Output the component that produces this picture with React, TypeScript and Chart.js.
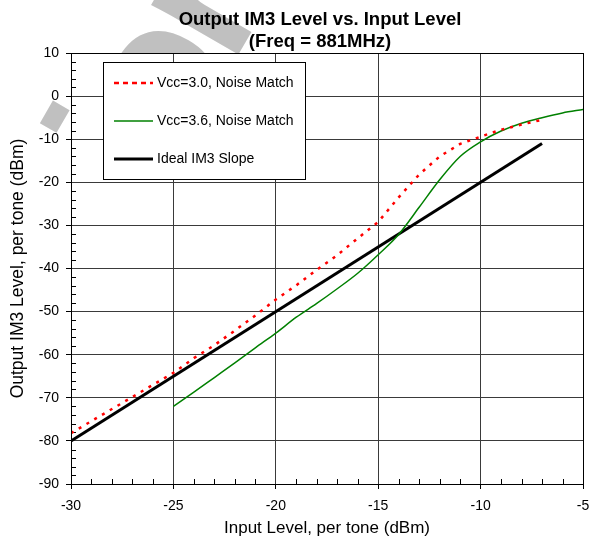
import React, { useEffect, useRef } from "react";
import { Chart, registerables } from "chart.js";

Chart.register(...registerables);

const TITLE_LINES = ["Output IM3 Level vs. Input Level", "(Freq = 881MHz)"];
const X_TITLE = "Input Level, per tone (dBm)";
const Y_TITLE = "Output IM3 Level, per tone (dBm)";
const WATERMARK = "ion";
const SERIES_NAMES = ["Vcc=3.0, Noise Match", "Vcc=3.6, Noise Match", "Ideal IM3 Slope"];

const X_MIN = -30;
const X_MAX = -5;
const X_STEP = 5;
const Y_MIN = -90;
const Y_MAX = 10;
const Y_STEP = 10;

const vcc30X = [-30, -29, -28, -27, -26, -25, -24, -23, -22, -21, -20, -19, -18, -17, -16, -15, -14, -13, -12, -11, -10, -9, -8, -7];
const vcc30Y = [-78.2, -75.4, -72.6, -69.8, -67.0, -64.2, -60.8, -57.8, -54.4, -50.9, -47.2, -43.9, -40.3, -36.9, -33.0, -29.2, -23.5, -18.2, -14.0, -11.1, -9.4, -7.8, -6.6, -5.5];

const vcc36X = [-25, -24, -23, -22, -21, -20, -19, -18, -17, -16, -15, -14, -13, -12, -11, -10, -9, -8, -7, -6, -5];
const vcc36Y = [-72.0, -68.7, -65.3, -61.9, -58.4, -55.0, -51.3, -48.1, -44.7, -41.1, -36.8, -32.1, -25.8, -19.4, -14.0, -10.6, -8.1, -6.3, -5.0, -3.9, -3.1];

const idealX = [-30, -7];
const idealY = [-80, -11];

const FONT = '"Liberation Sans", Arial, Helvetica, sans-serif';

const decorPlugin = {
  id: "decor",
  beforeDraw(chart: any) {
    const ctx = chart.ctx;
    const a = chart.chartArea;
    ctx.save();
    ctx.fillStyle = "#ffffff";
    ctx.fillRect(0, 0, chart.width, chart.height);
    const F = 190;
    ctx.font = `bold ${F}px ${FONT}`;
    const letters = WATERMARK.split("");
    const widths = letters.map((ch) => ctx.measureText(ch).width);
    const kern = [0, -2, -8];
    const th = -Math.PI / 3;
    const c = Math.cos(th);
    const s = Math.sin(th);
    const pa = widths[0] / 2;
    const pb = -0.66 * F;
    const ox = 57 - (pa * c - pb * s);
    const oy = 118 - (pa * s + pb * c);
    ctx.translate(ox, oy);
    ctx.rotate(th);
    ctx.fillStyle = "#c0c0c0";
    ctx.textAlign = "left";
    ctx.textBaseline = "alphabetic";
    let pos = 0;
    letters.forEach((ch, i) => {
      pos += kern[i] || 0;
      ctx.fillText(ch, pos, 0);
      pos += widths[i];
    });
    ctx.restore();
    ctx.save();
    ctx.fillStyle = "#ffffff";
    ctx.fillRect(a.left, a.top, a.right - a.left, a.bottom - a.top);
    ctx.restore();
  },
  beforeDatasetsDraw(chart: any) {
    const ctx = chart.ctx;
    const a = chart.chartArea;
    const xs = chart.scales.x;
    const ys = chart.scales.y;
    ctx.save();
    ctx.strokeStyle = "#000";
    ctx.lineWidth = 1;
    ctx.beginPath();
    for (let v = X_MIN; v <= X_MAX; v += 1) {
      if (v % X_STEP === 0) continue;
      const px = Math.round(xs.getPixelForValue(v)) + 0.5;
      ctx.moveTo(px, a.bottom);
      ctx.lineTo(px, a.bottom - 5);
    }
    for (let v = Y_MIN; v <= Y_MAX; v += 2) {
      if (v % Y_STEP === 0) continue;
      const py = Math.round(ys.getPixelForValue(v)) + 0.5;
      ctx.moveTo(a.left, py);
      ctx.lineTo(a.left + 5, py);
    }
    ctx.stroke();
    ctx.restore();
  },
  afterDatasetsDraw(chart: any) {
    const ctx = chart.ctx;
    const a = chart.chartArea;
    ctx.save();
    ctx.strokeStyle = "#000";
    ctx.lineWidth = 1;
    ctx.strokeRect(Math.round(a.left) + 0.5, Math.round(a.top) + 0.5, Math.round(a.right - a.left), Math.round(a.bottom - a.top));
    const bx = 103, by = 62, bw = 202, bh = 117;
    ctx.fillStyle = "#fff";
    ctx.fillRect(bx, by, bw, bh);
    ctx.strokeRect(bx + 0.5, by + 0.5, bw, bh);
    const rows = [83, 121, 159];
    const styles = [
      { color: "#ff0000", width: 2.5, dash: [5, 4] },
      { color: "#008000", width: 1.5, dash: [] },
      { color: "#000000", width: 3, dash: [] },
    ];
    ctx.font = `14px ${FONT}`;
    ctx.textAlign = "left";
    ctx.textBaseline = "middle";
    rows.forEach((ry, i) => {
      const st = styles[i];
      ctx.beginPath();
      ctx.strokeStyle = st.color;
      ctx.lineWidth = st.width;
      ctx.setLineDash(st.dash);
      ctx.moveTo(114, ry);
      ctx.lineTo(153, ry);
      ctx.stroke();
      ctx.setLineDash([]);
      ctx.fillStyle = "#000";
      ctx.fillText(SERIES_NAMES[i], 157, ry);
    });
    ctx.restore();
  },
  afterDraw(chart: any) {
    const ctx = chart.ctx;
    const a = chart.chartArea;
    ctx.save();
    ctx.fillStyle = "#000";
    ctx.textAlign = "center";
    ctx.textBaseline = "alphabetic";
    ctx.font = `bold 18.5px ${FONT}`;
    ctx.fillText(TITLE_LINES[0], 320, 25);
    ctx.fillText(TITLE_LINES[1], 320, 46.5);
    ctx.font = `17px ${FONT}`;
    ctx.fillText(X_TITLE, (a.left + a.right) / 2, 533);
    ctx.translate(23, (a.top + a.bottom) / 2);
    ctx.rotate(-Math.PI / 2);
    ctx.font = `17.5px ${FONT}`;
    ctx.fillText(Y_TITLE, 0, 0);
    ctx.restore();
  },
};

export default function App() {
  const ref = useRef<HTMLCanvasElement | null>(null);
  useEffect(() => {
    if (!ref.current) return;
    const toPts = (xs: number[], ys: number[]) => xs.map((x, i) => ({ x, y: ys[i] }));
    const tickFont = { family: FONT, size: 14 };
    const chart = new Chart(ref.current, {
      type: "line",
      data: {
        datasets: [
          {
            label: SERIES_NAMES[0],
            data: toPts(vcc30X, vcc30Y),
            borderColor: "#ff0000",
            borderWidth: 2.5,
            borderDash: [3, 6],
            pointRadius: 0,
            tension: 0,
            fill: false,
          },
          {
            label: SERIES_NAMES[1],
            data: toPts(vcc36X, vcc36Y),
            borderColor: "#008000",
            borderWidth: 1.5,
            pointRadius: 0,
            cubicInterpolationMode: "monotone",
            fill: false,
          },
          {
            label: SERIES_NAMES[2],
            data: toPts(idealX, idealY),
            borderColor: "#000000",
            borderWidth: 3,
            pointRadius: 0,
            tension: 0,
            fill: false,
          },
        ],
      },
      options: {
        animation: false,
        responsive: false,
        devicePixelRatio: 1,
        layout: { padding: { top: 53, right: 11, left: 0, bottom: 0 } },
        plugins: { legend: { display: false }, title: { display: false }, tooltip: { enabled: false } },
        scales: {
          x: {
            type: "linear",
            min: X_MIN,
            max: X_MAX,
            ticks: { stepSize: X_STEP, color: "#000", font: tickFont, padding: 9, maxRotation: 0 },
            grid: { color: "#3a3a3a", lineWidth: 1, tickLength: 5, tickColor: "#000", drawTicks: true },
            border: { color: "#000", width: 1 },
            afterFit: (s: any) => {
              s.height = 56;
              s.paddingLeft = 0;
              s.paddingRight = 0;
            },
          },
          y: {
            type: "linear",
            min: Y_MIN,
            max: Y_MAX,
            ticks: { stepSize: Y_STEP, color: "#000", font: tickFont, padding: 7 },
            grid: { color: "#3a3a3a", lineWidth: 1, tickLength: 5, tickColor: "#000", drawTicks: true },
            border: { color: "#000", width: 1 },
            afterFit: (s: any) => {
              s.width = 71;
              s.paddingTop = 0;
              s.paddingBottom = 0;
            },
          },
        },
      } as any,
      plugins: [decorPlugin],
    });
    return () => chart.destroy();
  }, []);
  return (
    <canvas
      ref={ref}
      width={594}
      height={540}
      style={{ position: "fixed", left: 0, top: 0, width: 594, height: 540, display: "block" }}
    />
  );
}
